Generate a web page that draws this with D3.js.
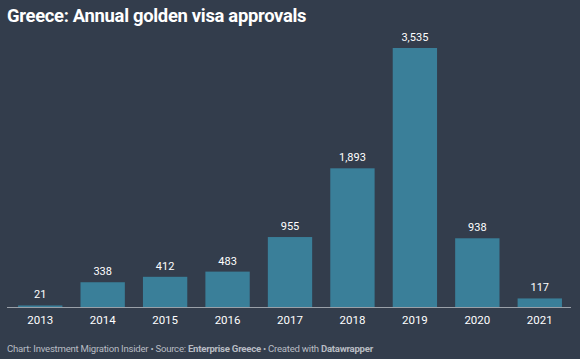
<!DOCTYPE html>
<html><head><meta charset="utf-8">
<script src="https://cdn.jsdelivr.net/npm/d3@7"></script>
<style>
html,body{margin:0;padding:0;background:#333d4c;}
svg{display:block;}
</style></head>
<body>
<svg id="c" width="580" height="359"></svg>
<script>
const years = ["2013","2014","2015","2016","2017","2018","2019","2020","2021"];
const approvals = [21,338,412,483,955,1893,3535,938,117];

const W = 580, H = 359;
const svg = d3.select("#c");
svg.append("rect").attr("width",W).attr("height",H).attr("fill","#333d4c");

const x = d3.scaleBand().domain(years).range([9,571]).paddingInner(0.29).paddingOuter(0.145);
const y = d3.scaleLinear().domain([0,3535]).range([307,48]);

svg.append("text").attr("x",7).attr("y",22)
  .attr("font-family","Roboto").attr("font-weight","bold").attr("font-size",18.4)
  .attr("letter-spacing",-0.3)
  .attr("fill","#ffffff").text("Greece: Annual golden visa approvals");

svg.selectAll("rect.bar").data(years).enter().append("rect").attr("class","bar")
  .attr("x",d=>x(d)).attr("width",x.bandwidth())
  .attr("y",(d,i)=>y(approvals[i])).attr("height",(d,i)=>y(0)-y(approvals[i]))
  .attr("fill","#3a7f99");

svg.selectAll("text.val").data(years).enter().append("text").attr("class","val")
  .attr("x",d=>x(d)+x.bandwidth()/2).attr("y",(d,i)=>y(approvals[i])-7)
  .attr("text-anchor","middle").attr("font-family","Roboto").attr("font-size",11)
  .attr("fill","#ffffff").text((d,i)=>d3.format(",")(approvals[i]));

const ax = svg.append("g").attr("transform","translate(0,307)")
  .call(d3.axisBottom(x).tickSize(0).tickPadding(9));
ax.select(".domain").attr("stroke","#9aa0a8").attr("stroke-width",1).attr("d","M7,0.5H571");
ax.selectAll("text").attr("font-family","Roboto").attr("font-size",11.5).attr("fill","#ffffff");

const foot = svg.append("text").attr("x",7).attr("y",352)
  .attr("font-family","Roboto").attr("font-size",9.6).attr("letter-spacing",-0.25).attr("fill","#b8bcc3");
foot.append("tspan").text("Chart: Investment Migration Insider • Source: ");
foot.append("tspan").attr("font-weight","bold").text("Enterprise Greece");
foot.append("tspan").text(" • Created with ");
foot.append("tspan").attr("font-weight","bold").text("Datawrapper");
</script>
</body></html>
